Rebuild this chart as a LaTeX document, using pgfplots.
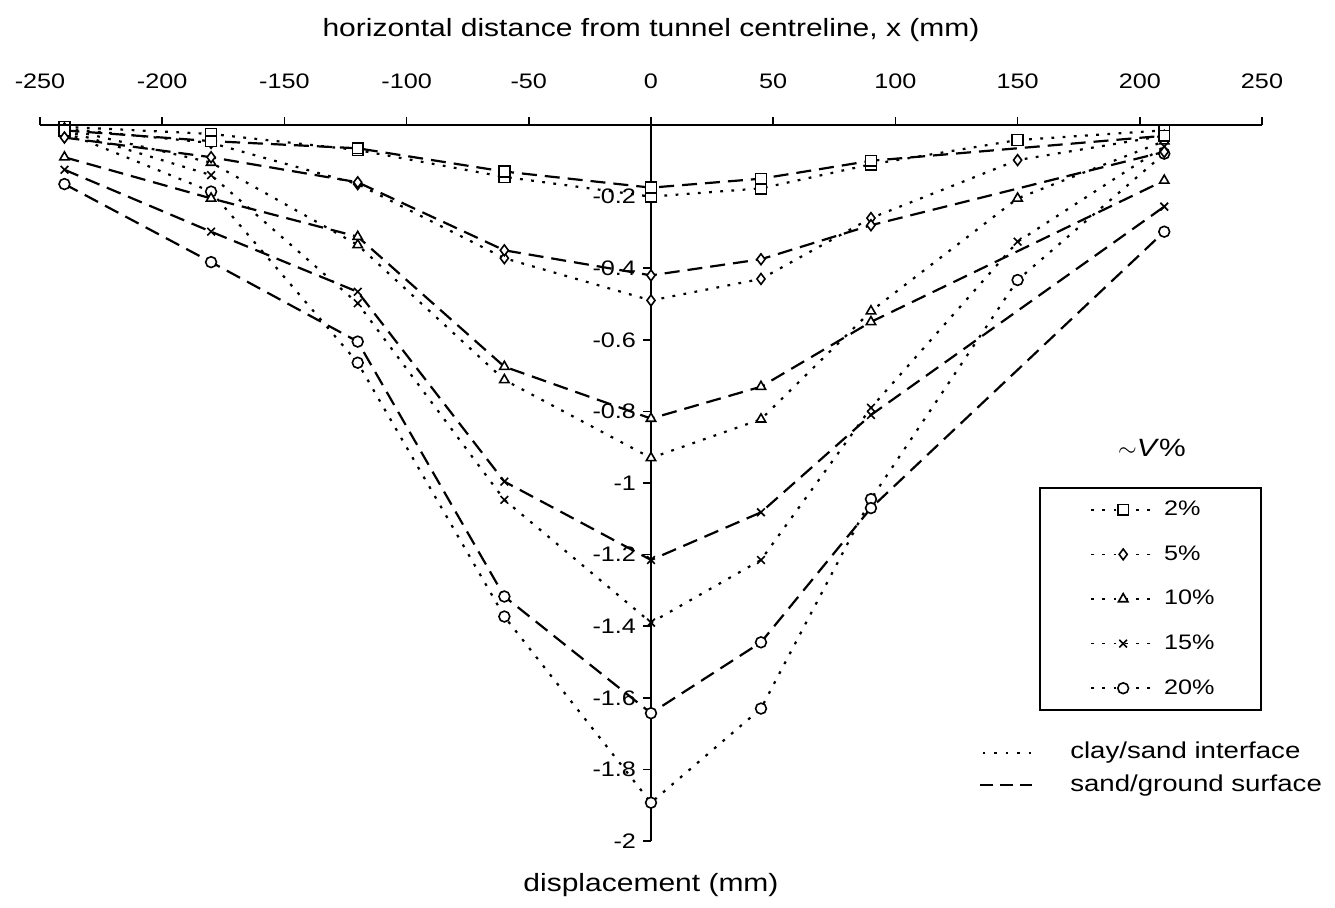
\documentclass[border=0pt]{standalone}
\usepackage{pgfplots}
\pgfplotsset{compat=1.18}
\usepackage{pgfplotstable}
\usepackage{fontspec}
\setmainfont{Liberation Sans}[FakeStretch=1.2]

% clay/sand interface (dotted)
\pgfplotstableread{
x    c2     c5     c10    c15    c20
-240 -0.005 -0.010 -0.010 -0.015 -0.020
-180 -0.025 -0.050 -0.105 -0.140 -0.186
-120 -0.070 -0.165 -0.335 -0.498 -0.664
-60  -0.145 -0.372 -0.712 -1.047 -1.373
0    -0.200 -0.490 -0.930 -1.390 -1.893
45   -0.177 -0.430 -0.822 -1.215 -1.630
90   -0.110 -0.260 -0.520 -0.790 -1.045
150  -0.042 -0.098 -0.205 -0.326 -0.433
210  -0.015 -0.030 -0.045 -0.060 -0.080
}\claysand

% sand/ground surface (dashed)
\pgfplotstableread{
x    c2     c5     c10    c15    c20
-240 -0.015 -0.035 -0.090 -0.125 -0.165
-180 -0.045 -0.090 -0.205 -0.298 -0.383
-120 -0.065 -0.160 -0.312 -0.466 -0.605
-60  -0.130 -0.350 -0.675 -0.996 -1.317
0    -0.175 -0.420 -0.820 -1.215 -1.643
45   -0.150 -0.375 -0.731 -1.082 -1.445
90   -0.100 -0.280 -0.550 -0.810 -1.070
210  -0.030 -0.075 -0.155 -0.228 -0.298
}\sandground

\begin{document}
\begin{tikzpicture}
\useasboundingbox (-20pt,-33pt) rectangle (647.5pt,420.5pt);
\begin{axis}[
  scale only axis, width=611pt, height=358pt,
  xmin=-250, xmax=250, ymin=-2, ymax=0,
  clip=false,
  axis x line*=top, axis y line*=middle,
  axis line style={line width=1pt},
  tick style={line width=0.8pt, black},
  tick align=outside, major tick length=4pt,
  xtick={-250,-200,-150,-100,-50,0,50,100,150,200,250},
  xticklabels={-250,-200,-150,-100,-50,0,50,100,150,200,250},
  ytick={-2,-1.8,-1.6,-1.4,-1.2,-1,-0.8,-0.6,-0.4,-0.2,0},
  yticklabels={-2,-1.8,-1.6,-1.4,-1.2,-1,-0.8,-0.6,-0.4,-0.2,0},
  ticklabel style={font=\fontsize{10.5}{12}\selectfont},
  xticklabel style={yshift=10.5pt},
  xlabel={horizontal distance from tunnel centreline, x (mm)},
  ylabel={displacement (mm)},
  every axis x label/.style={at={(axis description cs:0.5,1)}, anchor=center, yshift=47.5pt, font=\fontsize{12.5}{14}\selectfont},
  every axis y label/.style={at={(axis description cs:0.5,0)}, anchor=center, yshift=-22pt, font=\fontsize{12.5}{14}\selectfont},
  every axis plot/.append style={black, line width=1.1pt},
  dotline/.style={dash pattern=on 1.4pt off 4.2pt},
  dashline/.style={dash pattern=on 7.5pt off 4pt},
  mk/.style={mark options={solid, fill=white, line width=0.8pt, mark size=2.7pt}},
  legend image code/.code={
    \path (-25pt,0pt);
    \draw[mark repeat=2, mark phase=2, line width=0.8pt, mark size=2.2pt]
      plot coordinates {(0pt,0pt) (16pt,0pt) (32pt,0pt)};},
  legend style={at={(axis cs:250,-1.011)}, anchor=north east,
    draw=black, line width=1pt, inner xsep=0pt, inner ysep=6pt,
    row sep=12.5pt, column sep=3.5pt, nodes={inner sep=0.5pt},
    font=\fontsize{10.5}{12}\selectfont},
  legend cell align=left,
]
\addplot[dotline, mark=square*, mk] table[x=x, y=c2] {\claysand};
\addlegendentry{\makebox[48pt][l]{2\%}}
\addplot[dotline, mark=diamond*, mk] table[x=x, y=c5] {\claysand};
\addlegendentry{\makebox[48pt][l]{5\%}}
\addplot[dotline, mark=triangle*, mk] table[x=x, y=c10] {\claysand};
\addlegendentry{\makebox[48pt][l]{10\%}}
\addplot[dotline, mark=x, mk] table[x=x, y=c15] {\claysand};
\addlegendentry{\makebox[48pt][l]{15\%}}
\addplot[dotline, mark=*, mk] table[x=x, y=c20] {\claysand};
\addlegendentry{\makebox[48pt][l]{20\%}\rule[-15pt]{0pt}{15pt}}

\addplot[dashline, mark=square*, mk, forget plot] table[x=x, y=c2] {\sandground};
\addplot[dashline, mark=diamond*, mk, forget plot] table[x=x, y=c5] {\sandground};
\addplot[dashline, mark=triangle*, mk, forget plot] table[x=x, y=c10] {\sandground};
\addplot[dashline, mark=x, mk, forget plot] table[x=x, y=c15] {\sandground};
\addplot[dashline, mark=*, mk, forget plot] table[x=x, y=c20] {\sandground};

\node[font=\fontsize{12.5}{14}\selectfont] at (axis cs:205,-0.902) {$\sim$\textit{V}\%};
\draw[line width=1pt, dash pattern=on 1.2pt off 4.5pt] (axis cs:135.8,-1.754) -- (axis cs:158.3,-1.754);
\node[anchor=west, inner sep=0pt, font=\fontsize{11.5}{13}\selectfont] at (axis cs:171.4,-1.754) {clay/sand interface};
\draw[line width=1.1pt, dash pattern=on 6.5pt off 3.5pt] (axis cs:134.6,-1.844) -- (axis cs:155.9,-1.844);
\node[anchor=west, inner sep=0pt, font=\fontsize{11.5}{13}\selectfont] at (axis cs:171.4,-1.844) {sand/ground surface};
\end{axis}
\end{tikzpicture}
\end{document}
